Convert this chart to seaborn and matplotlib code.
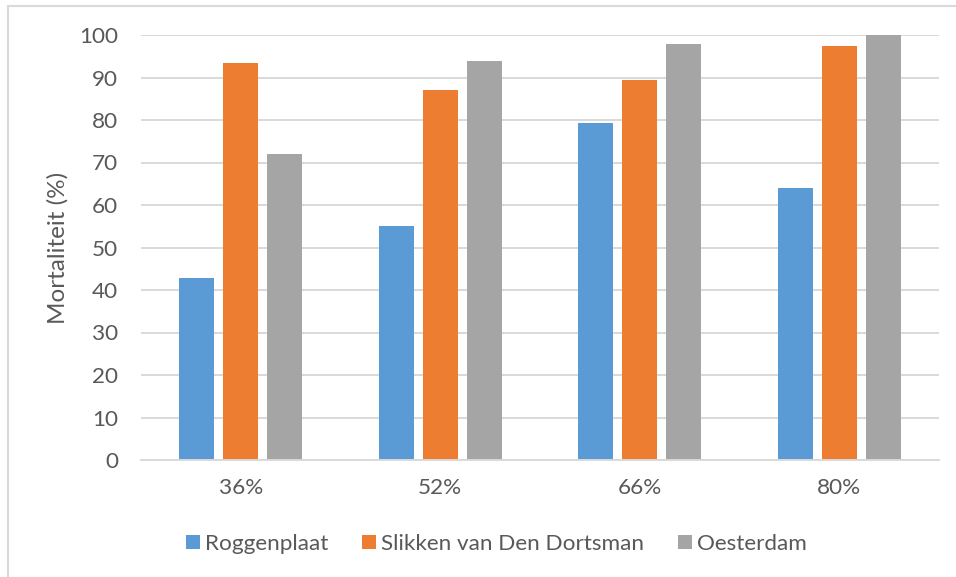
import matplotlib
matplotlib.use("Agg")
import matplotlib.pyplot as plt
from matplotlib.patches import Rectangle, Patch
import seaborn as sns
import pandas as pd

# Mortality per salinity level and site
salinity = ["36%", "52%", "66%", "80%"]
sites = ["Roggenplaat", "Slikken van Den Dortsman", "Oesterdam"]
roggenplaat = [42.8, 55.1, 79.2, 63.9]
slikken = [93.3, 87.1, 89.4, 97.3]
oesterdam = [72.0, 93.9, 97.9, 100.0]
colors = ["#5B9BD5", "#ED7D31", "#A5A5A5"]
y_ticks = [0, 10, 20, 30, 40, 50, 60, 70, 80, 90, 100]

df = pd.DataFrame({
    "Saliniteit": salinity * 3,
    "Locatie": [sites[0]] * 4 + [sites[1]] * 4 + [sites[2]] * 4,
    "Mortaliteit": roggenplaat + slikken + oesterdam,
})

sns.set_theme(style="white")
plt.rcParams["font.family"] = ["Lato", "DejaVu Sans"]
text_color = "#595959"
grid_color = "#D9D9D9"

W, H = 956, 577
fig = plt.figure(figsize=(W / 100, H / 100), dpi=100)
ax = fig.add_axes([141 / W, 1 - 460 / H, (939 - 141) / W, (460 - 35) / H])

sns.barplot(data=df, x="Saliniteit", y="Mortaliteit", hue="Locatie",
            hue_order=sites, order=salinity, palette=colors,
            width=0.662, gap=0.205, saturation=1, legend=False,
            ax=ax, zorder=3, linewidth=0)

ax.set_xlim(-0.5, 3.5)
ax.set_ylim(0, 100)
ax.set_yticks(y_ticks)
ax.yaxis.grid(True, color=grid_color, linewidth=1.4, zorder=0)
ax.set_axisbelow(True)
for side in ["top", "right", "left"]:
    ax.spines[side].set_visible(False)
ax.spines["bottom"].set_color(grid_color)
ax.spines["bottom"].set_linewidth(1.4)
ax.spines["bottom"].set_zorder(4)

fs = 16.2
ax.tick_params(axis="both", length=0, labelsize=fs, labelcolor=text_color)
ax.tick_params(axis="y", pad=16.5)
ax.tick_params(axis="x", pad=13)
ax.set_xlabel("")
ax.set_ylabel("Mortaliteit (%)", fontsize=17.5, color=text_color, va="center")
ax.yaxis.set_label_coords((58 - 141) / (939 - 141), 0.5)

# Legend below the plot
handles = [Patch(facecolor=c, edgecolor="none") for c in colors]
fig.legend(handles, sites, loc="center left",
           bbox_to_anchor=(186 / W, 1 - 544 / H), ncol=3, frameon=False,
           fontsize=fs, labelcolor=text_color, borderpad=0, borderaxespad=0,
           handlelength=0.62, handleheight=0.62, handletextpad=0.22,
           columnspacing=1.5)

# Chart area border
fig.patches.append(Rectangle((7.5 / W, -0.2), 1.2, 1.2 - 5.7 / H,
                             transform=fig.transFigure, fill=False,
                             edgecolor=grid_color, linewidth=1.5))

fig.savefig("out.png", dpi=100)
